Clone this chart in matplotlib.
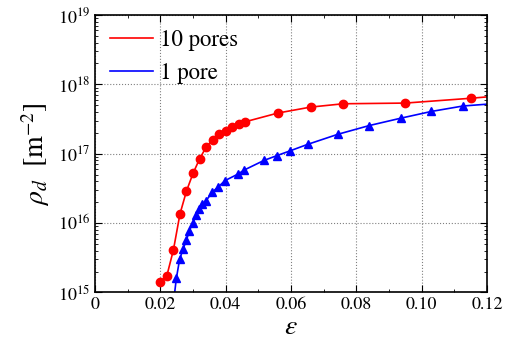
import matplotlib
matplotlib.use('Agg')
import matplotlib.pyplot as plt
from matplotlib.ticker import MultipleLocator, LogLocator, NullFormatter

plt.rcParams['font.family'] = 'STIXGeneral'
plt.rcParams['mathtext.fontset'] = 'stix'

# 10 pores
eps_10 = [0.020, 0.022, 0.024, 0.026, 0.028, 0.030, 0.032, 0.034, 0.036, 0.038,
          0.040, 0.042, 0.044, 0.046, 0.056, 0.066, 0.076, 0.095, 0.115, 0.125]
rho_10 = [1.44e15, 1.75e15, 4.1e15, 1.35e16, 2.9e16, 5.2e16, 8.4e16, 1.24e17, 1.6e17, 1.91e17,
          2.16e17, 2.39e17, 2.67e17, 2.89e17, 3.86e17, 4.7e17, 5.25e17, 5.37e17, 6.3e17, 6.9e17]

# 1 pore
eps_1 = [0.024, 0.0249, 0.0259, 0.027, 0.028, 0.0289, 0.030, 0.0309, 0.0319, 0.0329, 0.034,
         0.0359, 0.0378, 0.0398, 0.0438, 0.0456, 0.0517, 0.0557, 0.0597, 0.0652,
         0.0744, 0.084, 0.0937, 0.103, 0.1126, 0.125]
rho_1 = [7e14, 1.6e15, 3.0e15, 4.3e15, 5.7e15, 7.8e15, 1.02e16, 1.32e16, 1.59e16, 1.9e16, 2.1e16,
         2.8e16, 3.35e16, 4.1e16, 5.1e16, 5.8e16, 8.0e16, 9.4e16, 1.1e17, 1.37e17,
         1.91e17, 2.55e17, 3.26e17, 4.07e17, 4.87e17, 5.4e17]

fig = plt.figure(figsize=(5.15, 3.48), dpi=100)
ax = fig.add_axes([0.1845, 0.1595, 0.7611, 0.7975])

ax.plot(eps_10, rho_10, color='red', lw=1.2, label='10 pores')
ax.plot(eps_10, rho_10, 'o', color='red', ms=6, ls='none')
ax.plot(eps_1, rho_1, color='blue', lw=1.2, label='1 pore')
ax.plot(eps_1, rho_1, '^', color='blue', ms=6, ls='none')

ax.set_yscale('log')
ax.set_xlim(0, 0.12)
ax.set_ylim(1e15, 1e19)
ax.set_xticks([0, 0.02, 0.04, 0.06, 0.08, 0.10, 0.12])
ax.set_xticklabels(['0', '0.02', '0.04', '0.06', '0.08', '0.10', '0.12'])
ax.xaxis.set_minor_locator(MultipleLocator(0.01))
ax.yaxis.set_major_locator(LogLocator(base=10, numticks=10))
ax.yaxis.set_minor_locator(LogLocator(base=10, subs=range(2, 10), numticks=10))
ax.yaxis.set_minor_formatter(NullFormatter())

ax.tick_params(which='both', direction='in', top=True, right=True, labelsize=13)
ax.tick_params(which='major', length=5, width=0.8)
ax.tick_params(which='minor', length=2.5, width=0.6)
ax.grid(True, which='major', ls=':', color='gray', lw=0.8)

ax.set_xlabel(r'$\varepsilon$', fontsize=20, labelpad=1)
ax.set_ylabel(r'$\rho_d\ \ [\mathrm{m}^{-2}]$', fontsize=20, labelpad=4)

ax.legend(loc='upper left', frameon=False, fontsize=16.5, handlelength=1.9,
          handletextpad=0.3, borderaxespad=0.25, labelspacing=0.5)

for s in ax.spines.values():
    s.set_linewidth(1.2)

fig.savefig('out.png', dpi=100)
